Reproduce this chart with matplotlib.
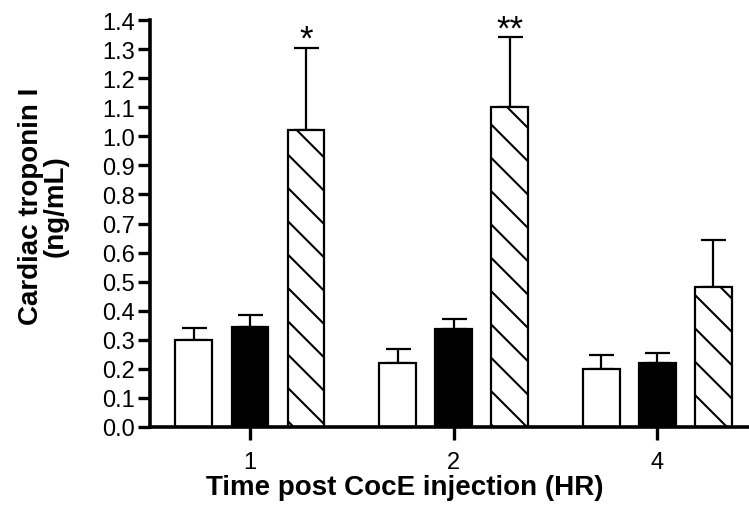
import matplotlib

matplotlib.use("Agg")
import matplotlib.pyplot as plt
import numpy as np

plt.rcParams["font.family"] = ["Liberation Sans", "DejaVu Sans"]
plt.rcParams["hatch.linewidth"] = 1.5

# data
groups = ["1", "2", "4"]
saline_mean = [0.30, 0.22, 0.20]
saline_err = [0.04, 0.048, 0.046]
coce_mean = [0.345, 0.336, 0.219]
coce_err = [0.04, 0.035, 0.036]
combo_mean = [1.02, 1.10, 0.481]
combo_err = [0.285, 0.24, 0.162]
stars = ["*", "**", ""]

x = np.arange(len(groups))
width = 0.18
offset = 0.275

fig = plt.figure(figsize=(7.49, 5.10), dpi=100)
ax = fig.add_axes([0.2003, 0.1608, 0.7997, 0.798])

series = [
    (saline_mean, saline_err, "white", None, -offset),
    (coce_mean, coce_err, "black", None, 0.0),
    (combo_mean, combo_err, "white", "\\", offset),
]
for means, errs, color, hatch, dx in series:
    ax.bar(x + dx, means, width, color=color, edgecolor="black",
           linewidth=1.6, hatch=hatch, zorder=2)
    ax.errorbar(x + dx, means, yerr=[np.zeros(len(errs)), errs], fmt="none",
                ecolor="black", elinewidth=1.6, capsize=9, capthick=1.6,
                zorder=1)

for xi, m, e, s in zip(x, combo_mean, combo_err, stars):
    if s:
        ax.text(xi + offset, m + e - 0.003, s, ha="center", va="baseline",
                fontsize=25, clip_on=False)

ax.set_xlim(-0.49, 2.45)
ax.set_ylim(0, 1.4)
ax.set_yticks(np.arange(0, 1.41, 0.1))
ax.set_yticklabels([f"{v:.1f}" for v in np.arange(0, 1.41, 0.1)])
ax.set_xticks(x)
ax.set_xticklabels(groups)

for side in ["top", "right"]:
    ax.spines[side].set_visible(False)
for side in ["left", "bottom"]:
    ax.spines[side].set_linewidth(2.6)

ax.tick_params(axis="both", direction="out", length=9, width=2.4,
               labelsize=17)
ax.tick_params(axis="y", pad=2)
ax.tick_params(axis="x", pad=8)

ax.set_xlabel("Time post CocE injection (HR)", fontsize=20, fontweight="bold")
ax.xaxis.set_label_coords(0.426, -0.115)
ax.set_ylabel("Cardiac troponin I\n(ng/mL)", fontsize=20, fontweight="bold",
              linespacing=0.95)
ax.yaxis.set_label_coords(-0.136, 0.545)

fig.savefig("out.png", dpi=100)
